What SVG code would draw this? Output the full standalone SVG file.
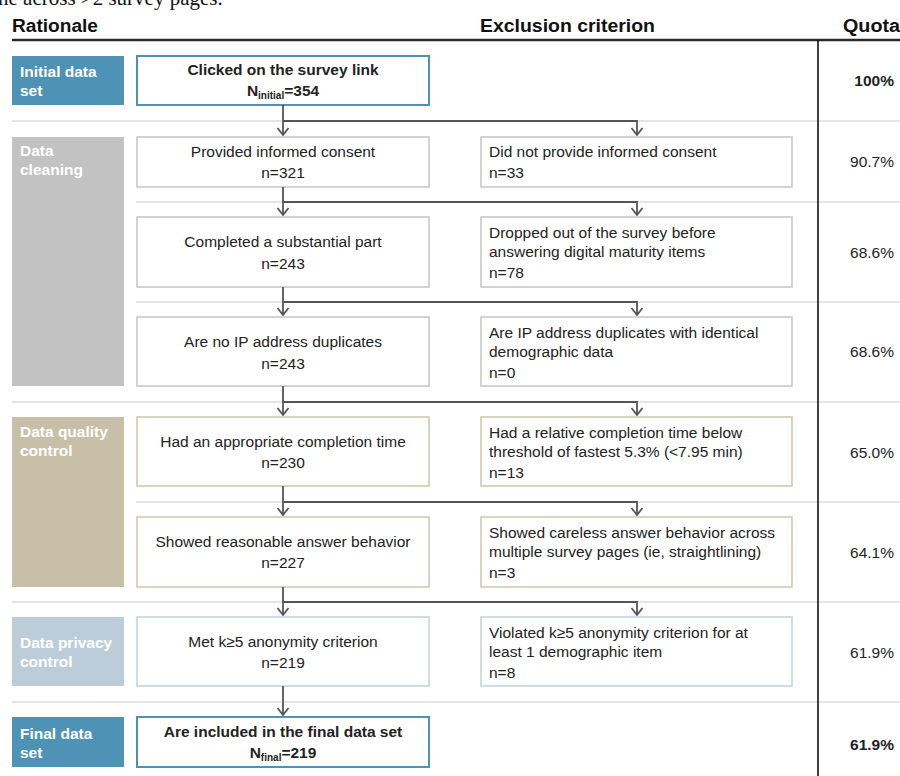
<svg xmlns="http://www.w3.org/2000/svg" width="900" height="776" viewBox="0 0 900 776">
<defs>
<style>
text{font-family:"Liberation Sans",Arial,sans-serif;font-size:15.5px;fill:#222}
.hd{font-size:18px;font-weight:bold;fill:#111}
.b{font-weight:bold}
.lab{font-weight:bold;fill:#fff}
.c{text-anchor:middle}
.r{text-anchor:end}
.sub{font-size:10px}
.sep{stroke:#dcdcdc;stroke-width:1.6;fill:none}
.con{stroke:#555;stroke-width:1.8;fill:none}
.bx{fill:#fff;stroke-width:1.6}
.gray{stroke:#c8c8c8}
.tan{stroke:#d3c9ae}
.lb{stroke:#c3d5e3}
.blue{stroke:#4e93b5;stroke-width:2}
</style>
<marker id="ah" viewBox="-1 -7 9 14" refX="7" refY="0" markerWidth="9" markerHeight="14" markerUnits="userSpaceOnUse" orient="auto">
<path d="M0,-5.5 L7,0 L0,5.5" fill="none" stroke="#555" stroke-width="1.8"/>
</marker>
</defs>
<rect width="900" height="776" fill="#fff"/>
<text x="-2" y="5" style="font-family:'Liberation Serif','Times New Roman',serif;font-size:21px;fill:#111">ne across &gt;2 survey pages.</text>

<g id="header">
<text class="hd" x="12" y="32" textLength="86" lengthAdjust="spacingAndGlyphs">Rationale</text>
<text class="hd" x="480" y="32" textLength="175" lengthAdjust="spacingAndGlyphs">Exclusion criterion</text>
<text class="hd" x="843" y="32" textLength="57" lengthAdjust="spacingAndGlyphs">Quota</text>
<line x1="12" y1="40" x2="900" y2="40" stroke="#2a2a2a" stroke-width="2.6"/>
</g>

<g id="separators">
<line class="sep" x1="12" y1="121" x2="900" y2="121"/>
<line class="sep" x1="136" y1="202" x2="900" y2="202"/>
<line class="sep" x1="136" y1="302" x2="900" y2="302"/>
<line class="sep" x1="12" y1="402" x2="900" y2="402"/>
<line class="sep" x1="136" y1="502" x2="900" y2="502"/>
<line class="sep" x1="12" y1="602" x2="900" y2="602"/>
<line class="sep" x1="12" y1="702" x2="900" y2="702"/>
</g>
<line id="quota-divider" x1="818" y1="40" x2="818" y2="776" stroke="#111" stroke-width="1.6"/>

<g id="label-initial">
<rect x="12" y="56" width="112" height="49" fill="#4e93b5"/>
<text class="lab" x="20" y="77">Initial data</text>
<text class="lab" x="20" y="96">set</text>
</g>
<g id="label-cleaning">
<rect x="12" y="137" width="112" height="249" fill="#c2c2c2"/>
<text class="lab" x="20" y="156">Data</text>
<text class="lab" x="20" y="175">cleaning</text>
</g>
<g id="label-quality">
<rect x="12" y="417" width="112" height="170" fill="#c7bfa7"/>
<text class="lab" x="20" y="437">Data quality</text>
<text class="lab" x="20" y="456">control</text>
</g>
<g id="label-privacy">
<rect x="12" y="617" width="112" height="69" fill="#bccdd9"/>
<text class="lab" x="20" y="648">Data privacy</text>
<text class="lab" x="20" y="667">control</text>
</g>
<g id="label-final">
<rect x="12" y="717" width="112" height="50" fill="#4e93b5"/>
<text class="lab" x="20" y="739">Final data</text>
<text class="lab" x="20" y="758">set</text>
</g>

<g id="n-initial">
<rect class="bx blue" x="137" y="56" width="292" height="49"/>
<text class="c b" x="283" y="75">Clicked on the survey link</text>
<text class="c b" x="283" y="96">N<tspan class="sub" dy="3">initial</tspan><tspan dy="-3">=354</tspan></text>
</g>
<g id="n-consent">
<rect class="bx gray" x="137" y="137" width="292" height="50"/>
<text class="c" x="283" y="157">Provided informed consent</text>
<text class="c" x="283" y="178">n=321</text>
</g>
<g id="x-consent">
<rect class="bx gray" x="481" y="137" width="311" height="50"/>
<text x="489" y="157">Did not provide informed consent</text>
<text x="489" y="178">n=33</text>
</g>
<g id="n-substantial">
<rect class="bx gray" x="137" y="217" width="292" height="70"/>
<text class="c" x="283" y="247">Completed a substantial part</text>
<text class="c" x="283" y="269">n=243</text>
</g>
<g id="x-dropped">
<rect class="bx gray" x="481" y="217" width="311" height="70"/>
<text x="489" y="238">Dropped out of the survey before</text>
<text x="489" y="257">answering digital maturity items</text>
<text x="489" y="278">n=78</text>
</g>
<g id="n-ip">
<rect class="bx gray" x="137" y="317" width="292" height="69"/>
<text class="c" x="283" y="347">Are no IP address duplicates</text>
<text class="c" x="283" y="369">n=243</text>
</g>
<g id="x-ip">
<rect class="bx gray" x="481" y="317" width="311" height="69"/>
<text x="489" y="338">Are IP address duplicates with identical</text>
<text x="489" y="357">demographic data</text>
<text x="489" y="378">n=0</text>
</g>
<g id="n-time">
<rect class="bx tan" x="137" y="417" width="292" height="69"/>
<text class="c" x="283" y="447">Had an appropriate completion time</text>
<text class="c" x="283" y="468">n=230</text>
</g>
<g id="x-time">
<rect class="bx tan" x="481" y="417" width="311" height="69"/>
<text x="489" y="438">Had a relative completion time below</text>
<text x="489" y="457">threshold of fastest 5.3% (&lt;7.95 min)</text>
<text x="489" y="478">n=13</text>
</g>
<g id="n-behavior">
<rect class="bx tan" x="137" y="517" width="292" height="70"/>
<text class="c" x="283" y="547">Showed reasonable answer behavior</text>
<text class="c" x="283" y="568">n=227</text>
</g>
<g id="x-behavior">
<rect class="bx tan" x="481" y="517" width="311" height="70"/>
<text x="489" y="538">Showed careless answer behavior across</text>
<text x="489" y="557">multiple survey pages (ie, straightlining)</text>
<text x="489" y="578">n=3</text>
</g>
<g id="n-anon">
<rect class="bx lb" x="137" y="617" width="292" height="69"/>
<text class="c" x="283" y="647">Met k≥5 anonymity criterion</text>
<text class="c" x="283" y="668">n=219</text>
</g>
<g id="x-anon">
<rect class="bx lb" x="481" y="617" width="311" height="69"/>
<text x="489" y="638">Violated k≥5 anonymity criterion for at</text>
<text x="489" y="657">least 1 demographic item</text>
<text x="489" y="678">n=8</text>
</g>
<g id="n-final">
<rect class="bx blue" x="137" y="717" width="292" height="50"/>
<text class="c b" x="283" y="737">Are included in the final data set</text>
<text class="c b" x="283" y="758">N<tspan class="sub" dy="3">final</tspan><tspan dy="-3">=219</tspan></text>
</g>

<g id="quota">
<text class="r b" x="894" y="86">100%</text>
<text class="r" x="894" y="167">90.7%</text>
<text class="r" x="894" y="258">68.6%</text>
<text class="r" x="894" y="357">68.6%</text>
<text class="r" x="894" y="458">65.0%</text>
<text class="r" x="894" y="558">64.1%</text>
<text class="r" x="894" y="658">61.9%</text>
<text class="r b" x="894" y="750">61.9%</text>
</g>

<g id="connectors">
<path class="con" d="M283,105 V135" marker-end="url(#ah)"/>
<path class="con" d="M283,121 H637 V135" marker-end="url(#ah)"/>
<path class="con" d="M283,187 V215" marker-end="url(#ah)"/>
<path class="con" d="M283,202 H637 V215" marker-end="url(#ah)"/>
<path class="con" d="M283,287 V315" marker-end="url(#ah)"/>
<path class="con" d="M283,302 H637 V315" marker-end="url(#ah)"/>
<path class="con" d="M283,386 V415" marker-end="url(#ah)"/>
<path class="con" d="M283,402 H637 V415" marker-end="url(#ah)"/>
<path class="con" d="M283,486 V515" marker-end="url(#ah)"/>
<path class="con" d="M283,502 H637 V515" marker-end="url(#ah)"/>
<path class="con" d="M283,587 V615" marker-end="url(#ah)"/>
<path class="con" d="M283,602 H637 V615" marker-end="url(#ah)"/>
<path class="con" d="M283,686 V715" marker-end="url(#ah)"/>
</g>
</svg>
